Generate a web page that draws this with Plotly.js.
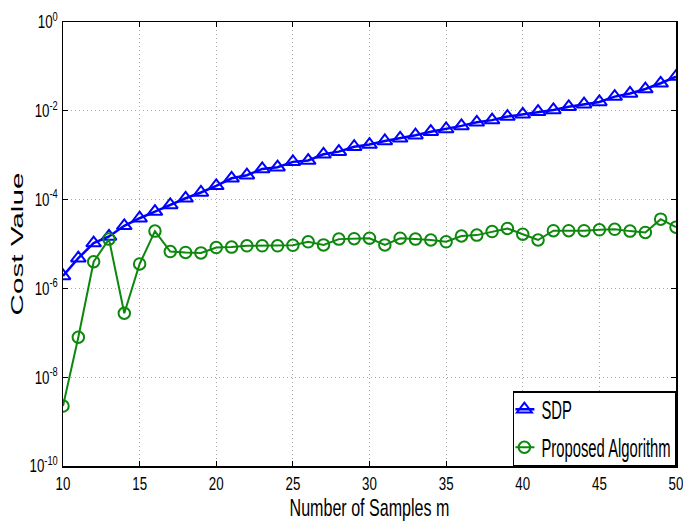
<!DOCTYPE html>
<html>
<head>
<meta charset="utf-8">
<script src="https://cdn.plot.ly/plotly-3.0.1.min.js"></script>
<style>
  html, body { margin: 0; padding: 0; background: #fff; }
  #chart { width: 683px; height: 530px; }
</style>
</head>
<body>
<div id="chart"></div>
<script>
// Number of samples m
const samples = [10, 11, 12, 13, 14, 15, 16, 17, 18, 19, 20, 21, 22, 23, 24, 25, 26, 27, 28, 29,
                 30, 31, 32, 33, 34, 35, 36, 37, 38, 39, 40, 41, 42, 43, 44, 45, 46, 47, 48, 49, 50];

// log10 of the cost value for each method
const sdpLog = [-5.72, -5.32, -4.98, -4.83, -4.59, -4.42, -4.27, -4.12, -3.97, -3.84,
                -3.69, -3.52, -3.45, -3.31, -3.27, -3.15, -3.12, -2.98, -2.92, -2.81,
                -2.76, -2.68, -2.62, -2.55, -2.47, -2.41, -2.34, -2.26, -2.21, -2.13,
                -2.08, -2.02, -1.98, -1.91, -1.85, -1.80, -1.68, -1.61, -1.51, -1.38, -1.23];
const proposedLog = [-8.65, -7.10, -5.40, -4.89, -6.56, -5.45, -4.71, -5.17, -5.19, -5.20,
                     -5.08, -5.07, -5.04, -5.04, -5.04, -5.03, -4.95, -5.02, -4.89, -4.88,
                     -4.87, -5.02, -4.87, -4.89, -4.91, -4.95, -4.82, -4.80, -4.72, -4.65,
                     -4.78, -4.91, -4.70, -4.70, -4.70, -4.68, -4.67, -4.71, -4.74, -4.44, -4.62];

const sdpCost = sdpLog.map(v => Math.pow(10, v));
const proposedCost = proposedLog.map(v => Math.pow(10, v));

// Decade ticks on the cost axis
const yTickVals = [1, 1e-2, 1e-4, 1e-6, 1e-8, 1e-10];
const yTickText = ['10<sup>0</sup>', '10<sup>-2</sup>', '10<sup>-4</sup>', '10<sup>-6</sup>',
                   '10<sup>-8</sup>', '10<sup>-10</sup>'];
const xTickVals = [10, 15, 20, 25, 30, 35, 40, 45, 50];

const sans = 'Liberation Sans, Arial, Helvetica, sans-serif';

const traces = [
  {
    x: samples, y: sdpCost, name: 'SDP', type: 'scatter', mode: 'lines+markers',
    line: { color: '#0000ff', width: 2.5 },
    marker: { symbol: 'triangle-up-open', size: 13, color: '#0000ff', line: { width: 2 } }
  },
  {
    x: samples, y: proposedCost, name: 'Proposed Algorithm', type: 'scatter', mode: 'lines+markers',
    line: { color: '#0c880c', width: 2 },
    marker: { symbol: 'circle-open', size: 11.5, color: '#0c880c', line: { width: 2 } }
  }
];

const layout = {
  width: 683, height: 530,
  margin: { l: 63, r: 7, t: 22, b: 64 },
  paper_bgcolor: '#fff', plot_bgcolor: '#fff',
  showlegend: true,
  legend: {
    x: 1, y: 0, xanchor: 'right', yanchor: 'bottom',
    bgcolor: '#fff', bordercolor: '#000', borderwidth: 1.5,
    font: { family: sans, size: 26, color: '#000' },
    itemwidth: 30
  },
  xaxis: {
    range: [10, 50], tickvals: xTickVals, ticklabeloverflow: 'allow',
    ticks: 'inside', ticklen: 5, tickcolor: '#000', tickwidth: 1,
    showline: true, linecolor: '#000', linewidth: 1.5, mirror: 'ticks',
    showgrid: true, gridcolor: '#a8a8a8', griddash: '1px,3px', gridwidth: 1,
    zeroline: false,
    tickfont: { family: sans, size: 18.5, color: '#000' },
    title: { text: 'Number of Samples m', font: { family: sans, size: 24, color: '#000' }, standoff: 2 }
  },
  yaxis: {
    type: 'log', range: [-10, 0],
    tickvals: yTickVals, ticktext: yTickText, ticklabeloverflow: 'allow',
    ticks: 'inside', ticklen: 5, tickcolor: '#000', tickwidth: 1,
    showline: true, linecolor: '#000', linewidth: 1.5, mirror: 'ticks',
    showgrid: true, gridcolor: '#a8a8a8', griddash: '1px,3px', gridwidth: 1,
    zeroline: false,
    tickfont: { family: sans, size: 18.5, color: '#000' },
    title: { text: 'Cost Value', font: { family: sans, size: 17, color: '#000' }, standoff: 6 }
  }
};

// Scale a text element along its own baseline, about its anchor point
function squeeze(el, f) {
  const ax = parseFloat(el.getAttribute('x')) || 0;
  const base = el.getAttribute('transform') || '';
  el.setAttribute('transform',
    base + ' translate(' + ax + ',0) scale(' + f.toFixed(4) + ',1) translate(' + (-ax) + ',0)');
}

Plotly.newPlot('chart', traces, layout, { displayModeBar: false, staticPlot: true }).then(gd => {
  const size = gd._fullLayout._size;
  const plotRight = size.l + size.w;
  const plotBottom = size.t + size.h;

  gd.querySelectorAll('.xtick text').forEach(t => squeeze(t, 0.72));
  gd.querySelectorAll('.ytick text').forEach(t => squeeze(t, 0.72));
  gd.querySelectorAll('.g-xtitle text').forEach(t => squeeze(t, 160 / t.getComputedTextLength()));
  gd.querySelectorAll('.g-ytitle text').forEach(t => {
    squeeze(t, 143 / t.getComputedTextLength());
    // sit the title next to the narrowed tick labels
    t.setAttribute('transform', 'translate(8,0) ' + t.getAttribute('transform'));
  });

  // legend: narrow labels, short sample line, box fitted in the lower right corner
  const legendScale = 0.57;
  const boxH = 74;
  const rowY = [18, 56];
  const lg = gd.querySelector('g.legend');
  let widest = 0;
  lg.querySelectorAll('text.legendtext').forEach(t => {
    widest = Math.max(widest, t.getComputedTextLength());
    t.setAttribute('x', 27);
    squeeze(t, legendScale);
  });
  lg.querySelectorAll('.legendlines path').forEach(p => p.setAttribute('d', 'M1,0h19'));
  lg.querySelectorAll('.legendpoints path.scatterpts').forEach(p => p.setAttribute('transform', 'translate(10,0)'));
  lg.querySelectorAll('g.traces').forEach((g, i) => {
    g.setAttribute('transform', 'translate(1.5,' + rowY[Math.min(i, rowY.length - 1)] + ')');
  });
  const bg = lg.querySelector('rect.bg');
  const bgW = 27 + widest * legendScale + 6;
  const bgX = parseFloat(bg.getAttribute('x')) || 0;
  const bgY = parseFloat(bg.getAttribute('y')) || 0;
  bg.setAttribute('width', bgW.toFixed(2));
  bg.setAttribute('height', boxH);
  lg.setAttribute('transform',
    'translate(' + (plotRight - bgX - bgW).toFixed(2) + ',' + (plotBottom - bgY - boxH).toFixed(2) + ')');
});
</script>
</body>
</html>
